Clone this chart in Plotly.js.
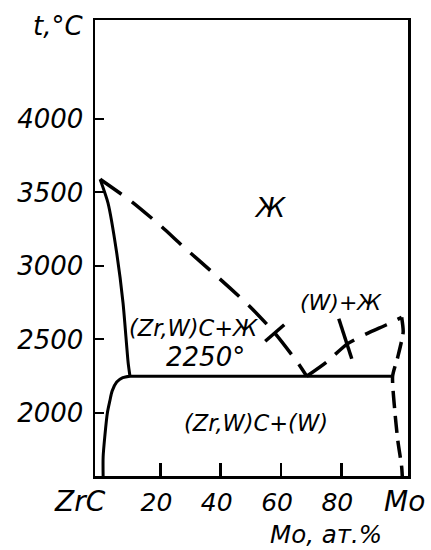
<!DOCTYPE html>
<html><head><meta charset="utf-8">
<script src="https://cdn.plot.ly/plotly-3.0.1.min.js"></script>
<style>html,body{margin:0;padding:0;background:#fff}#chart{width:431px;height:550px}</style>
</head><body><div id="chart"></div>
<script>
// ZrC – Mo phase diagram
const liqLeftX = [0, 10.5, 20.4, 27.6, 37, 49.1, 57.9, 65.6, 68.5];
const liqLeftY = [3590, 3437, 3267, 3131, 2961, 2735, 2544, 2340, 2250];

const liqRightX = [68.5, 75, 82, 89, 95, 100];
const liqRightY = [2250, 2345, 2470, 2545, 2600, 2650];

const solLeftX = [0, 2.6, 5.5, 7.6, 9.3, 9.9];
const solLeftY = [3590, 3429, 3088, 2748, 2340, 2250];

const solvLeftX = [9.9, 7.5, 5.5, 4, 3.2, 2.4, 1.6, 1.0, 1.0];
const solvLeftY = [2250, 2240, 2210, 2150, 2080, 2000, 1850, 1700, 1571];

const eutX = [9.9, 96.8];
const eutY = [2250, 2250];

const solvRightX = [100, 100.5, 98.7, 97, 97.7, 98.7, 100, 100.2];
const solvRightY = [2650, 2550, 2380, 2250, 2020, 1816, 1633, 1571];

const markX = [57.9, 81.3];
const markY = [2544, 2505];

const xTickVals = [20, 40, 60, 80];
const xTickText = ['20', '40', '60', '80'];
const xEndLabels = ['ZrC', 'Mo'];
const yTickVals = [2000, 2500, 3000, 3500, 4000];
const yTickText = ['2000', '2500', '3000', '3500', '4000'];
const regionLabels = ['Ж', '(W)+Ж', '(Zr,W)C+Ж', '2250°', '(Zr,W)C+(W)'];
const xTitle = 'Mo, ат.%';
const yTitle = 't,°C';

const FONT = 'DejaVu Sans, Liberation Sans, sans-serif';
const INK = '#000';

const solid = {color: INK, width: 3};
const spl = (extra) => Object.assign({shape: 'spline', smoothing: 0.6, color: INK, width: 3.5}, extra);

const traces = [
  {x: liqLeftX, y: liqLeftY, mode: 'lines', line: spl({dash: '26px,13px'})},
  {x: liqRightX, y: liqRightY, mode: 'lines', line: spl({dash: '24px,12px'})},
  {x: solvRightX, y: solvRightY, mode: 'lines', line: spl({dash: '17px,8px', width: 3.5})},
  {x: solLeftX, y: solLeftY, mode: 'lines', line: spl({width: 3})},
  {x: solvLeftX, y: solvLeftY, mode: 'lines', line: spl({width: 3, smoothing: 0.8})},
  {x: eutX, y: eutY, mode: 'lines', line: solid},
  {x: markX, y: markY, mode: 'markers',
   marker: {symbol: 'line-ns', color: INK, opacity: 1, size: [18, 30], angle: [49, -18],
            line: {color: INK, width: 3.5}}}
];

const regionPos = [
  {x: 56.3, y: 3395, size: 27},
  {x: 79.8, y: 2748, size: 22},
  {x: 30.8, y: 2578, size: 22.5},
  {x: 34.8, y: 2381, size: 26},
  {x: 51.7, y: 1932, size: 22.5}
];

const annotations = regionLabels.map((t, i) => ({
  text: t, x: regionPos[i].x, y: regionPos[i].y, xref: 'x', yref: 'y',
  showarrow: false, xanchor: 'center', yanchor: 'middle',
  font: {family: FONT, size: regionPos[i].size, color: INK, style: 'italic'}
}));

annotations.push(
  {text: xEndLabels[0], xref: 'paper', yref: 'paper', x: -0.048, y: -0.055, showarrow: false,
   xanchor: 'center', yanchor: 'middle', font: {family: FONT, size: 28, color: INK, style: 'italic'}},
  {text: xEndLabels[1], xref: 'paper', yref: 'paper', x: 0.99, y: -0.055, showarrow: false,
   xanchor: 'center', yanchor: 'middle', font: {family: FONT, size: 28, color: INK, style: 'italic'}},
  {text: xTitle, xref: 'paper', yref: 'paper', x: 0.738, y: -0.129, showarrow: false,
   xanchor: 'center', yanchor: 'middle', font: {family: FONT, size: 24.5, color: INK, style: 'italic'}},
  {text: yTitle, xref: 'paper', yref: 'paper', x: -0.118, y: 0.987, showarrow: false,
   xanchor: 'center', yanchor: 'middle', font: {family: FONT, size: 26, color: INK, style: 'italic'}}
);

const layout = {
  width: 431, height: 550,
  margin: {l: 95, r: 23, t: 20, b: 74},
  paper_bgcolor: '#fff', plot_bgcolor: '#fff',
  showlegend: false,
  font: {family: FONT, color: INK, style: 'italic'},
  xaxis: {
    range: [-1.7, 102.1], showgrid: false, zeroline: false,
    showline: true, mirror: true, linecolor: INK, linewidth: 2.5,
    ticks: 'inside', ticklen: 13, tickwidth: 2.5, tickcolor: INK,
    tickvals: xTickVals, ticktext: xTickText, ticklabelshift: -4, ticklabelstandoff: 2,
    tickfont: {family: FONT, size: 25, color: INK, style: 'italic'}
  },
  yaxis: {
    range: [1571, 4673], showgrid: false, zeroline: false,
    showline: true, mirror: true, linecolor: INK, linewidth: 2.5,
    ticks: 'inside', ticklen: 9, tickwidth: 2, tickcolor: INK,
    tickvals: yTickVals, ticktext: yTickText, ticklabelstandoff: 4,
    tickfont: {family: FONT, size: 26, color: INK, style: 'italic'}
  },
  annotations: annotations
};

Plotly.newPlot('chart', traces, layout, {staticPlot: true, displayModeBar: false});
</script>
</body></html>
